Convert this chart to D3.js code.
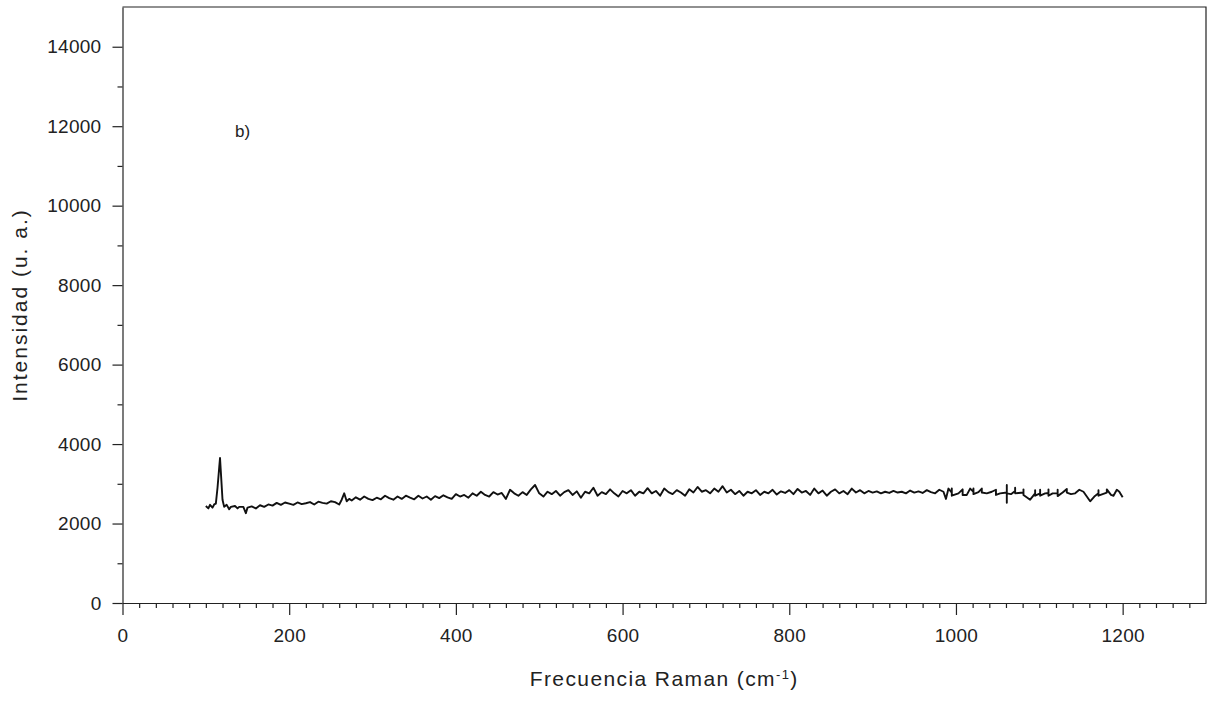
<!DOCTYPE html>
<html>
<head>
<meta charset="utf-8">
<script src="https://cdn.jsdelivr.net/npm/d3@7"></script>
<style>
  body { margin: 0; background: #fff; }
  svg text { font-family: "Liberation Sans", Arial, sans-serif; fill: #222; }
</style>
</head>
<body>
<div id="chart"></div>
<script>
const width = 1208;
const height = 704;
const margin = { top: 7, right: 2, bottom: 101, left: 122.5 };

// axis ticks
const xMajor = [0, 200, 400, 600, 800, 1000, 1200];
const yMajor = [0, 2000, 4000, 6000, 8000, 10000, 12000, 14000];
const xMinor = d3.range(20, 1300, 20).filter(v => v % 200 !== 0);
const yMinor = [1000, 3000, 5000, 7000, 9000, 11000, 13000];

// spectrum: [frecuencia, intensidad]
const spectrum = [
  [100, 2440], [103, 2380], [105, 2470], [108, 2400], [110, 2480], [112, 2500],
  [114, 2900], [116, 3400], [117, 3650], [118, 3300], [120, 2600], [122, 2420],
  [125, 2470], [128, 2360], [130, 2420], [135, 2440], [138, 2380], [140, 2420],
  [145, 2420], [148, 2260], [150, 2400], [155, 2430], [160, 2380], [165, 2460],
  [170, 2420], [175, 2480], [180, 2450], [185, 2520], [190, 2470], [195, 2530],
  [200, 2500], [205, 2470], [210, 2530], [215, 2490], [220, 2510], [225, 2540],
  [230, 2480], [235, 2550], [240, 2520], [245, 2500], [250, 2560], [255, 2540],
  [260, 2480], [263, 2600], [266, 2760], [269, 2560], [272, 2620], [275, 2580],
  [280, 2660], [285, 2600], [290, 2680], [295, 2620], [300, 2590], [305, 2650],
  [310, 2610], [315, 2700], [320, 2640], [325, 2600], [330, 2680], [335, 2620],
  [340, 2700], [345, 2650], [350, 2610], [355, 2700], [360, 2630], [365, 2680],
  [370, 2600], [375, 2690], [380, 2640], [385, 2710], [390, 2660], [395, 2620],
  [400, 2740], [405, 2680], [410, 2720], [415, 2650], [420, 2760], [425, 2700],
  [430, 2800], [435, 2720], [440, 2680], [445, 2790], [450, 2730], [455, 2770],
  [460, 2620], [465, 2850], [470, 2760], [475, 2700], [480, 2790], [485, 2720],
  [490, 2860], [495, 2970], [500, 2760], [505, 2680], [510, 2800], [515, 2740],
  [520, 2820], [525, 2700], [530, 2790], [535, 2840], [540, 2720], [545, 2810],
  [550, 2650], [555, 2800], [560, 2760], [565, 2900], [570, 2700], [575, 2790],
  [580, 2740], [585, 2860], [590, 2760], [595, 2680], [600, 2820], [605, 2760],
  [610, 2840], [615, 2700], [620, 2800], [625, 2760], [630, 2890], [635, 2760],
  [640, 2820], [645, 2700], [650, 2880], [655, 2790], [660, 2740], [665, 2840],
  [670, 2780], [675, 2700], [680, 2860], [685, 2780], [690, 2920], [695, 2800],
  [700, 2840], [705, 2760], [710, 2880], [715, 2800], [720, 2940], [725, 2780],
  [730, 2850], [735, 2740], [740, 2820], [745, 2700], [750, 2800], [755, 2760],
  [760, 2840], [765, 2720], [770, 2800], [775, 2760], [780, 2850], [785, 2730],
  [790, 2810], [795, 2770], [800, 2840], [805, 2740], [810, 2870], [815, 2780],
  [820, 2820], [825, 2720], [830, 2880], [835, 2760], [840, 2830], [845, 2700],
  [850, 2800], [855, 2860], [860, 2760], [865, 2820], [870, 2740], [875, 2880],
  [880, 2780], [885, 2840], [890, 2760], [895, 2820], [900, 2780], [905, 2810],
  [910, 2760], [915, 2800], [920, 2770], [925, 2820], [930, 2780], [935, 2800],
  [940, 2760], [945, 2830], [950, 2780], [955, 2810], [960, 2770], [965, 2840],
  [970, 2790], [975, 2760], [980, 2850], [985, 2800], [988, 2620], [991, 2880],
  [995, 2780], [995, 2880], [995, 2700], [1003, 2760], [1008, 2860], [1008, 2720],
  [1013, 2720], [1017, 2880], [1021, 2800], [1021, 2880], [1021, 2740], [1027, 2790],
  [1031, 2880], [1031, 2780], [1037, 2760], [1043, 2800], [1048, 2850], [1048, 2720],
  [1053, 2760], [1061, 2780], [1061, 2970], [1061, 2520], [1061, 2760], [1066, 2740],
  [1071, 2820], [1071, 2900], [1071, 2760], [1081, 2780], [1081, 2860], [1081, 2720],
  [1089, 2600], [1095, 2760], [1095, 2840], [1095, 2700], [1101, 2760], [1101, 2850],
  [1101, 2700], [1107, 2760], [1111, 2770], [1111, 2860], [1111, 2700], [1116, 2760],
  [1122, 2760], [1122, 2850], [1122, 2690], [1128, 2780], [1133, 2870], [1133, 2780],
  [1138, 2740], [1143, 2760], [1148, 2850], [1153, 2800], [1157, 2680], [1161, 2560],
  [1166, 2680], [1171, 2760], [1171, 2840], [1171, 2700], [1176, 2740], [1181, 2780],
  [1181, 2860], [1186, 2720], [1189, 2700], [1193, 2850], [1196, 2800], [1200, 2660]
];

const svg = d3.select("#chart")
  .append("svg")
  .attr("width", width)
  .attr("height", height);

const x = d3.scaleLinear().domain([0, 1300]).range([margin.left, width - margin.right]);
const y = d3.scaleLinear().domain([0, 15000]).range([height - margin.bottom, margin.top]);

// frame on top and right
svg.append("path")
  .attr("d", "M" + x(0) + "," + y(15000) + "H" + x(1300) + "V" + y(0))
  .attr("fill", "none")
  .attr("stroke", "#222")
  .attr("stroke-width", 1.2);

// minor ticks
svg.append("g")
  .attr("transform", "translate(0," + y(0) + ")")
  .call(d3.axisBottom(x).tickValues(xMinor).tickSize(5).tickFormat("").tickSizeOuter(0))
  .call(g => g.select(".domain").remove())
  .selectAll("line").attr("stroke", "#222").attr("stroke-width", 1.2);

svg.append("g")
  .attr("transform", "translate(" + x(0) + ",0)")
  .call(d3.axisLeft(y).tickValues(yMinor).tickSize(5).tickFormat("").tickSizeOuter(0))
  .call(g => g.select(".domain").remove())
  .selectAll("line").attr("stroke", "#222").attr("stroke-width", 1.2);

// major axes
const fmt = d3.format("d");
const xAxis = svg.append("g")
  .attr("transform", "translate(0," + y(0) + ")")
  .call(d3.axisBottom(x).tickValues(xMajor).tickFormat(fmt).tickSize(12).tickPadding(14).tickSizeOuter(0));

const yAxis = svg.append("g")
  .attr("transform", "translate(" + x(0) + ",0)")
  .call(d3.axisLeft(y).tickValues(yMajor).tickFormat(fmt).tickSize(10).tickPadding(11).tickSizeOuter(0));

[xAxis, yAxis].forEach(function (g) {
  g.selectAll("path, line").attr("stroke", "#222").attr("stroke-width", 1.2);
  g.selectAll("text")
    .style("font-size", "19px")
    .style("letter-spacing", "0.3px")
    .attr("fill", "#222");
});

// spectrum line
svg.append("path")
  .datum(spectrum)
  .attr("fill", "none")
  .attr("stroke", "#111")
  .attr("stroke-width", 1.9)
  .attr("stroke-linejoin", "round")
  .attr("d", d3.line().x(d => x(d[0])).y(d => y(d[1])));

// panel label
svg.append("text")
  .attr("x", x(135))
  .attr("y", y(11720))
  .style("font-size", "17px")
  .text("b)");

// axis titles
const xTitle = svg.append("text")
  .attr("x", (x(0) + x(1300)) / 2)
  .attr("y", 686)
  .attr("text-anchor", "middle")
  .style("font-size", "21px")
  .style("letter-spacing", "1.4px");
xTitle.append("tspan").text("Frecuencia Raman (cm");
xTitle.append("tspan").attr("dy", -7).style("font-size", "13px").text("-1");
xTitle.append("tspan").attr("dy", 7).text(")");

svg.append("text")
  .attr("transform", "translate(27," + ((y(0) + y(15000)) / 2) + ") rotate(-90)")
  .attr("text-anchor", "middle")
  .style("font-size", "21px")
  .style("letter-spacing", "2px")
  .text("Intensidad (u. a.)");
</script>
</body>
</html>
